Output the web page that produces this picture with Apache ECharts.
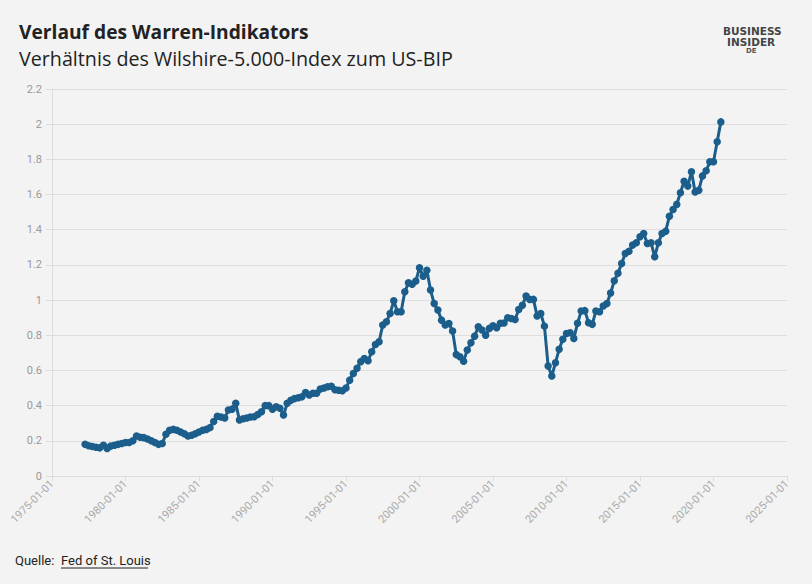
<!DOCTYPE html>
<html>
<head>
<meta charset="utf-8">
<script src="https://cdn.jsdelivr.net/npm/echarts@6/dist/echarts.min.js"></script>
<style>
  html, body { margin: 0; padding: 0; background: #f3f3f3; }
  #chart { width: 812px; height: 584px; }
</style>
</head>
<body>
<div id="chart"></div>
<script>
// Quarterly observations, first quarter = 1977-04-01
const firstQuarter = 1977.25;
const warrenValues = [
  0.18, 0.172, 0.168,
  0.163, 0.16, 0.175, 0.157,
  0.17, 0.175, 0.18, 0.185,
  0.19, 0.19, 0.20, 0.227,
  0.22, 0.218, 0.21, 0.20,
  0.19, 0.18, 0.185, 0.237,
  0.26, 0.265, 0.26, 0.25,
  0.24, 0.227, 0.232, 0.24,
  0.25, 0.26, 0.265, 0.275,
  0.31, 0.34, 0.335, 0.33,
  0.375, 0.38, 0.413, 0.318,
  0.325, 0.33, 0.335, 0.337,
  0.35, 0.365, 0.40, 0.40,
  0.38, 0.394, 0.385, 0.347,
  0.413, 0.43, 0.44, 0.445,
  0.45, 0.475, 0.46, 0.47,
  0.47, 0.494, 0.50, 0.507,
  0.51, 0.49, 0.487, 0.485,
  0.50, 0.545, 0.583, 0.612,
  0.65, 0.668, 0.655, 0.706,
  0.748, 0.763, 0.858, 0.877,
  0.924, 0.996, 0.934, 0.934,
  1.047, 1.098, 1.09, 1.108,
  1.184, 1.136, 1.17, 1.057,
  0.98, 0.943, 0.886, 0.858,
  0.867, 0.824, 0.69, 0.678,
  0.653, 0.716, 0.757, 0.795,
  0.848, 0.83, 0.80, 0.839,
  0.854, 0.843, 0.868, 0.87,
  0.90, 0.895, 0.89, 0.947,
  0.97, 1.023, 1.004, 1.004,
  0.91, 0.924, 0.852, 0.625,
  0.568, 0.644, 0.72, 0.777,
  0.81, 0.814, 0.782, 0.868,
  0.9375, 0.94, 0.871, 0.862,
  0.9375, 0.934, 0.966, 0.98,
  1.04, 1.11, 1.152, 1.208,
  1.265, 1.278, 1.3125, 1.326,
  1.36, 1.379, 1.322, 1.326,
  1.246, 1.326, 1.379, 1.392,
  1.477, 1.515, 1.544, 1.61,
  1.676, 1.648, 1.729, 1.615,
  1.625, 1.706, 1.735, 1.786,
  1.786, 1.90, 2.013
];
const xAxisYears = [1975, 2025];
const xTickStep = 5;
const yTicks = [0, 2.2, 0.2];

const titleText = 'Verlauf des Warren-Indikators';
const subtitleText = 'Verhältnis des Wilshire-5.000-Index zum US-BIP';
const sourceLabel = 'Quelle: ';
const sourceName = 'Fed of St. Louis';
const logoLines = ['BUSINESS', 'INSIDER', 'DE'];

const seriesData = warrenValues.map((v, i) => [firstQuarter + i * 0.25, v]);

const chart = echarts.init(document.getElementById('chart'), null, { renderer: 'svg' });
const lineColor = '#1c5e8b';
const titleFont = 'Open Sans';
const font = 'Roboto';

chart.setOption({
  backgroundColor: '#f3f3f3',
  animation: false,
  title: [
    { text: titleText, left: 14, top: 17,
      textStyle: { fontFamily: titleFont, fontWeight: 'bold', fontSize: 19.2, color: '#222' } },
    { text: subtitleText, left: 14, top: 43,
      textStyle: { fontFamily: titleFont, fontWeight: 'normal', fontSize: 19.7, color: '#222' } }
  ],
  grid: { left: 52, right: 25, top: 89, bottom: 108 },
  xAxis: {
    type: 'value',
    min: xAxisYears[0], max: xAxisYears[1], interval: xTickStep,
    axisLine: { show: true, lineStyle: { color: '#dcdcdc' } },
    axisTick: { show: true, length: 5, lineStyle: { color: '#dcdcdc' } },
    splitLine: { show: false },
    axisLabel: {
      rotate: 45, margin: 6, color: '#aaa', fontFamily: font, fontSize: 11,
      formatter: v => v + '-01-01'
    }
  },
  yAxis: {
    type: 'value',
    min: yTicks[0], max: yTicks[1], interval: yTicks[2],
    axisLine: { show: true, lineStyle: { color: '#dcdcdc' } },
    axisTick: { show: true, length: 6, lineStyle: { color: '#dcdcdc' } },
    splitLine: { show: true, lineStyle: { color: '#dedede' } },
    axisLabel: { color: '#999', fontFamily: font, fontSize: 11, margin: 10 }
  },
  graphic: [
    { type: 'text', left: 723, top: 25,
      style: { text: logoLines[0], fontFamily: 'DejaVu Sans', fontWeight: 'bold', fontSize: 10.5, fill: '#444' } },
    { type: 'text', left: 727, top: 36,
      style: { text: logoLines[1], fontFamily: 'DejaVu Sans', fontWeight: 'bold', fontSize: 10.5, fill: '#444' } },
    { type: 'text', left: 746, top: 47.5,
      style: { text: logoLines[2], fontFamily: 'DejaVu Sans', fontWeight: 'bold', fontSize: 7, fill: '#555' } },
    { type: 'text', left: 15, top: 554,
      style: { text: sourceLabel, fontFamily: font, fontSize: 13, fill: '#222' } },
    { type: 'text', left: 61, top: 554,
      style: { text: sourceName, fontFamily: font, fontSize: 13, fill: '#222' } },
    { type: 'line', shape: { x1: 61, y1: 568, x2: 148, y2: 568 },
      style: { stroke: '#222', lineWidth: 1 } }
  ],
  series: [{
    type: 'line',
    data: seriesData,
    symbol: 'circle',
    symbolSize: 7.5,
    showAllSymbol: true,
    lineStyle: { color: lineColor, width: 3 },
    itemStyle: { color: lineColor },
    emphasis: { disabled: true }
  }]
});
</script>
</body>
</html>
